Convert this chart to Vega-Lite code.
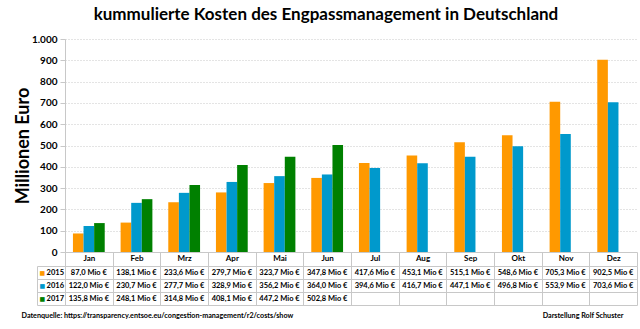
{
  "$schema": "https://vega.github.io/schema/vega-lite/v6.json",
  "background": "white",
  "padding": {"left": 14, "top": 6, "right": 8, "bottom": 4},
  "config": {
    "locale": {"number": {"decimal": ",", "thousands": ".", "grouping": [3], "currency": ["", " Mio €"]}},
    "view": {"stroke": null},
    "font": "Lato"
  },
  "title": {
    "text": "kummulierte Kosten des Engpassmanagement in Deutschland",
    "fontSize": 17, "fontWeight": "bold", "font": "Lato", "color": "black",
    "anchor": "middle", "offset": 10
  },
  "data": {"values": [
    {"month": "Jan", "year": "2015", "value": 87.0},
    {"month": "Feb", "year": "2015", "value": 138.1},
    {"month": "Mrz", "year": "2015", "value": 233.6},
    {"month": "Apr", "year": "2015", "value": 279.7},
    {"month": "Mai", "year": "2015", "value": 323.7},
    {"month": "Jun", "year": "2015", "value": 347.8},
    {"month": "Jul", "year": "2015", "value": 417.6},
    {"month": "Aug", "year": "2015", "value": 453.1},
    {"month": "Sep", "year": "2015", "value": 515.1},
    {"month": "Okt", "year": "2015", "value": 548.6},
    {"month": "Nov", "year": "2015", "value": 705.3},
    {"month": "Dez", "year": "2015", "value": 902.5},
    {"month": "Jan", "year": "2016", "value": 122.0},
    {"month": "Feb", "year": "2016", "value": 230.7},
    {"month": "Mrz", "year": "2016", "value": 277.7},
    {"month": "Apr", "year": "2016", "value": 328.9},
    {"month": "Mai", "year": "2016", "value": 356.2},
    {"month": "Jun", "year": "2016", "value": 364.0},
    {"month": "Jul", "year": "2016", "value": 394.6},
    {"month": "Aug", "year": "2016", "value": 416.7},
    {"month": "Sep", "year": "2016", "value": 447.1},
    {"month": "Okt", "year": "2016", "value": 496.8},
    {"month": "Nov", "year": "2016", "value": 553.9},
    {"month": "Dez", "year": "2016", "value": 703.6},
    {"month": "Jan", "year": "2017", "value": 135.8},
    {"month": "Feb", "year": "2017", "value": 248.1},
    {"month": "Mrz", "year": "2017", "value": 314.8},
    {"month": "Apr", "year": "2017", "value": 408.1},
    {"month": "Mai", "year": "2017", "value": 447.2},
    {"month": "Jun", "year": "2017", "value": 502.8}
  ]},
  "spacing": 14,
  "bounds": "flush",
  "vconcat": [
    {
      "width": 572, "height": 213,
      "mark": {"type": "bar"},
      "encoding": {
        "x": {
          "field": "month", "type": "nominal",
          "sort": ["Jan","Feb","Mrz","Apr","Mai","Jun","Jul","Aug","Sep","Okt","Nov","Dez"],
          "scale": {"paddingInner": 0, "paddingOuter": 0},
          "axis": {
            "title": null, "labelAngle": 0, "tickBand": "extent", "tickSize": 14,
            "tickColor": "#c8c8c8", "domainColor": "#c8c8c8", "labelPadding": -12,
            "labelFontSize": 8, "labelFontWeight": "bold", "labelColor": "black", "labelFont": "Lato"
          }
        },
        "xOffset": {
          "field": "year", "type": "nominal",
          "scale": {"domain": ["2015","2016","2017"], "paddingInner": 0, "paddingOuter": 0.75}
        },
        "y": {
          "field": "value", "type": "quantitative",
          "scale": {"domain": [0, 1000]},
          "axis": {
            "title": "Millionen Euro", "titleFontSize": 18, "titleFontWeight": "bold", "titleColor": "black",
            "titleFont": "Lato", "titlePadding": -1,
            "format": ",d", "values": [0,100,200,300,400,500,600,700,800,900,1000],
            "labelFontSize": 10, "labelFontWeight": "bold", "labelColor": "black", "labelFont": "Lato",
            "labelPadding": 3, "tickSize": 5, "tickColor": "#c8c8c8", "domainColor": "#c8c8c8",
            "gridColor": "#c8c8c8", "gridDash": [1, 2], "gridOpacity": 1
          }
        },
        "color": {
          "field": "year", "type": "nominal",
          "scale": {"domain": ["2015","2016","2017"], "range": ["#FF9900","#0099CC","#008000"]},
          "legend": null
        }
      }
    },
    {
      "width": 572, "height": 39,
      "layer": [
        {
          "mark": {"type": "text", "fontSize": 7.5, "fontWeight": "bold", "font": "Lato", "color": "black"},
          "encoding": {
            "x": {
              "field": "month", "type": "nominal",
              "sort": ["Jan","Feb","Mrz","Apr","Mai","Jun","Jul","Aug","Sep","Okt","Nov","Dez"],
              "scale": {"paddingInner": 0, "paddingOuter": 0},
              "axis": {
                "orient": "bottom", "grid": true, "tickBand": "extent", "gridColor": "#c8c8c8", "gridOpacity": 1,
                "labels": false, "ticks": false, "domain": false,
                "title": "Datenquelle:  https://transparency.entsoe.eu/congestion-management/r2/costs/show",
                "titleAnchor": "start", "titleAlign": "left", "titleX": -44, "titleY": 10,
                "titleFontSize": 7.2, "titleFontWeight": "bold", "titleColor": "black", "titleFont": "Lato", "titleBaseline": "middle"
              }
            },
            "y": {
              "field": "year", "type": "nominal",
              "scale": {"domain": ["2015","2016","2017"], "paddingInner": 0, "paddingOuter": 0},
              "axis": {
                "title": null, "grid": true, "tickBand": "extent", "gridColor": "#c8c8c8", "gridOpacity": 1,
                "tickSize": 28, "tickColor": "#c8c8c8", "domainColor": "#c8c8c8",
                "labelPadding": -26.5, "labelFontSize": 7.5, "labelFontWeight": "bold", "labelColor": "black", "labelFont": "Lato"
              }
            },
            "text": {"field": "value", "type": "quantitative", "format": "$.1f"}
          }
        },
        {
          "mark": {"type": "text", "opacity": 0},
          "encoding": {
            "x": {
              "field": "month", "type": "nominal",
              "sort": ["Jan","Feb","Mrz","Apr","Mai","Jun","Jul","Aug","Sep","Okt","Nov","Dez"],
              "scale": {"paddingInner": 0, "paddingOuter": 0},
              "axis": {
                "orient": "bottom", "grid": false, "labels": false, "ticks": false, "domain": false,
                "title": "Darstellung  Rolf Schuster",
                "titleAnchor": "end", "titleAlign": "right", "titleX": 558, "titleY": 10,
                "titleFontSize": 7.2, "titleFontWeight": "bold", "titleColor": "black", "titleFont": "Lato", "titleBaseline": "middle"
              }
            },
            "y": {
              "field": "year", "type": "nominal",
              "scale": {"domain": ["2015","2016","2017"], "paddingInner": 0, "paddingOuter": 0},
              "axis": {
                "orient": "left", "offset": 28, "title": null, "grid": false, "ticks": false, "tickSize": 0,
                "domainColor": "#c8c8c8",
                "labelExpr": "'■'", "labelAlign": "left", "labelPadding": -2, "labelFontSize": 6, "labelFont": "DejaVu Sans",
                "labelColor": {
                  "condition": [
                    {"test": "datum.value == '2015'", "value": "#FF9900"},
                    {"test": "datum.value == '2016'", "value": "#0099CC"}
                  ],
                  "value": "#008000"
                }
              }
            },
            "text": {"value": ""}
          }
        }
      ],
      "resolve": {"scale": {"x": "independent", "y": "independent"}, "axis": {"x": "independent", "y": "independent"}}
    }
  ]
}
